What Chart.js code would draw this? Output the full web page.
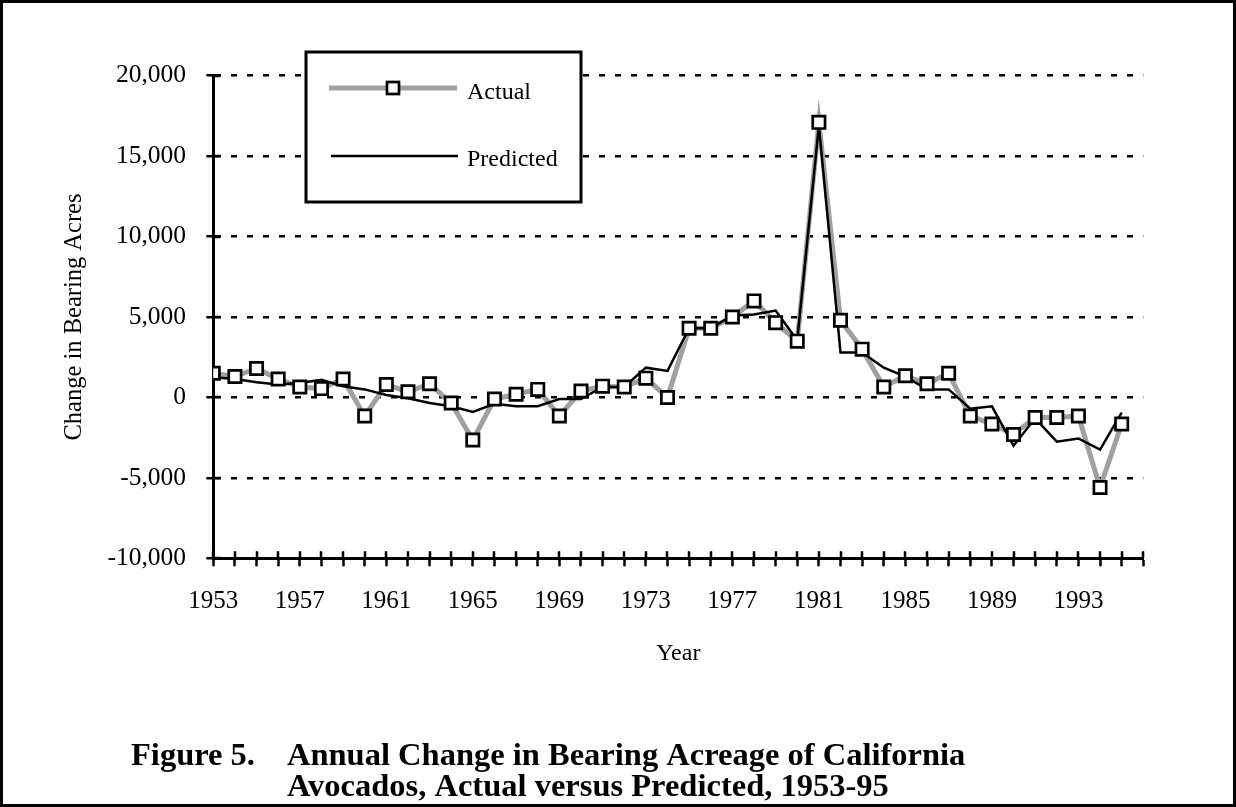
<!DOCTYPE html>
<html><head><meta charset="utf-8">
<script src="https://cdn.jsdelivr.net/npm/chart.js@4/dist/chart.umd.min.js"></script>
<style>html,body{margin:0;padding:0;background:#fff;} canvas{display:block;}</style>
</head><body>
<canvas id="c" width="1236" height="807"></canvas>
<script>
// ---- data ----
const years = [1953,1954,1955,1956,1957,1958,1959,1960,1961,1962,1963,1964,1965,1966,1967,1968,1969,1970,1971,1972,1973,1974,1975,1976,1977,1978,1979,1980,1981,1982,1983,1984,1985,1986,1987,1988,1989,1990,1991,1992,1993,1994,1995];
const actual = [1500,1300,1800,1150,650,550,1150,-1150,800,350,850,-350,-2650,-100,200,500,-1150,400,700,650,1200,0,4300,4300,5000,6000,4650,3500,17100,4800,3000,650,1350,850,1500,-1150,-1650,-2300,-1250,-1250,-1150,-5600,-1650];
const predicted = [1250,1150,950,800,900,1100,700,500,150,-50,-350,-550,-900,-400,-550,-550,-100,-100,650,650,1850,1650,4300,4300,5100,5150,5400,3550,16900,2800,2800,1850,1300,500,500,-700,-550,-3000,-1300,-2750,-2550,-3250,-950];
const xAxisEnd = 1996;
const xLabelYears = [1953,1957,1961,1965,1969,1973,1977,1981,1985,1989,1993];
const yTicks = [-10000,-5000,0,5000,10000,15000,20000];
const seriesNames = ['Actual','Predicted'];
const xTitle = 'Year';
const yTitle = 'Change in Bearing Acres';
const captionLabel = 'Figure 5.';
const captionLines = ['Annual Change in Bearing Acreage of California','Avocados, Actual versus Predicted, 1953-95'];

const FONT = "'Liberation Serif', 'Times New Roman', serif";
Chart.defaults.font.family = FONT;
Chart.defaults.font.size = 24;
Chart.defaults.color = '#000';

const actualPts = years.map((y,i)=>({x:y, y:actual[i]}));
const predPts = years.map((y,i)=>({x:y, y:predicted[i]}));
const xTickVals = years.concat([xAxisEnd]);

const GRAY = '#a0a0a0';

const decor = {
  id:'decor',
  beforeDraw(chart){
    const c = chart.ctx;
    c.save(); c.fillStyle='#fff'; c.fillRect(0,0,chart.width,chart.height); c.restore();
  },
  afterDraw(chart){
    const c = chart.ctx;
    const xs = chart.scales.x, ys = chart.scales.y;
    const a = chart.chartArea;
    c.save();
    // inner halves of tick marks
    c.strokeStyle='#000'; c.lineWidth=2.5;
    c.beginPath();
    xs.ticks.forEach(t=>{ const px = Math.round(xs.getPixelForValue(t.value)); c.moveTo(px, a.bottom); c.lineTo(px, a.bottom-7); });
    ys.ticks.forEach(t=>{ const py = Math.round(ys.getPixelForValue(t.value)); c.moveTo(a.left, py); c.lineTo(a.left+7, py); });
    c.stroke();

    // legend box
    const L = {x:306, y:52, w:275, h:150};
    c.fillStyle='#fff'; c.fillRect(L.x,L.y,L.w,L.h);
    c.strokeStyle='#000'; c.lineWidth=3; c.strokeRect(L.x,L.y,L.w,L.h);
    // Actual sample
    c.strokeStyle=GRAY; c.lineWidth=5; c.lineCap='butt';
    c.beginPath(); c.moveTo(329,88); c.lineTo(457,88); c.stroke();
    c.fillStyle='#fff'; c.strokeStyle='#000'; c.lineWidth=2.7;
    c.fillRect(387,82,12,12); c.strokeRect(387,82,12,12);
    // Predicted sample
    c.strokeStyle='#000'; c.lineWidth=2.5;
    c.beginPath(); c.moveTo(331,156); c.lineTo(458,156); c.stroke();
    c.fillStyle='#000'; c.font = '24px '+FONT; c.textBaseline='alphabetic'; c.textAlign='left';
    c.fillText(seriesNames[0], 467, 99);
    c.fillText(seriesNames[1], 467, 166);

    // caption
    c.font = 'bold 32.5px '+FONT;
    c.fillText(captionLabel, 131, 765);
    c.fillText(captionLines[0], 287, 765);
    c.fillText(captionLines[1], 287, 796);

    // outer frame
    c.strokeStyle='#000'; c.lineWidth=3;
    c.strokeRect(1.5,1.5,chart.width-3,chart.height-3);
    c.restore();
  }
};

new Chart(document.getElementById('c').getContext('2d'), {
  type:'line',
  data:{ datasets:[
    {label:seriesNames[0], data:actualPts, borderColor:GRAY, borderWidth:5, pointRadius:0, tension:0, order:3, borderJoinStyle:'miter'},
    {label:seriesNames[1], data:predPts, borderColor:'#000', borderWidth:2.5, pointRadius:0, tension:0, order:2},
    {label:seriesNames[0]+' markers', data:actualPts, showLine:false, pointStyle:'rect', pointRadius:8.7, pointBackgroundColor:'#fff', pointBorderColor:'#000', pointBorderWidth:2.7, order:1}
  ]},
  options:{
    responsive:false, animation:false, devicePixelRatio:1,
    events:[],
    layout:{padding:{left:0, top:75.7, right:92.7, bottom:0}},
    plugins:{legend:{display:false}, tooltip:{enabled:false}, title:{display:false}},
    scales:{
      x:{
        type:'linear', min:years[0], max:xAxisEnd,
        afterBuildTicks:s=>{ s.ticks = xTickVals.map(v=>({value:v})); },
        afterFit:s=>{ s.height = 248.7; },
        ticks:{autoSkip:false, maxRotation:0, minRotation:0, padding:20.3, font:{size:25},
               callback:v=> xLabelYears.includes(v) ? String(v) : ''},
        grid:{drawOnChartArea:false, drawTicks:true, tickLength:8, tickWidth:2.5, tickColor:'#000'},
        border:{display:true, color:'#000', width:3},
        title:{display:true, text:xTitle, font:{size:24}, padding:{top:0, bottom:138.6}}
      },
      y:{
        type:'linear', min:yTicks[0], max:yTicks[yTicks.length-1],
        afterBuildTicks:s=>{ s.ticks = yTicks.map(v=>({value:v})); },
        afterFit:s=>{ s.width = 213.3; },
        ticks:{padding:20.3, font:{size:25.5}, callback:v=> Number(v).toLocaleString('en-US')},
        grid:{color:'#000', lineWidth:2.5, drawTicks:true, tickLength:7, tickWidth:2.5, tickColor:'#000', tickBorderDash:[]},
        border:{display:true, color:'#000', width:3, dash:[6,10], dashOffset:0},
        title:{display:true, text:yTitle, font:{size:24.5}, padding:{top:59.6, bottom:0}}
      }
    }
  },
  plugins:[decor]
});
</script>
</body></html>
